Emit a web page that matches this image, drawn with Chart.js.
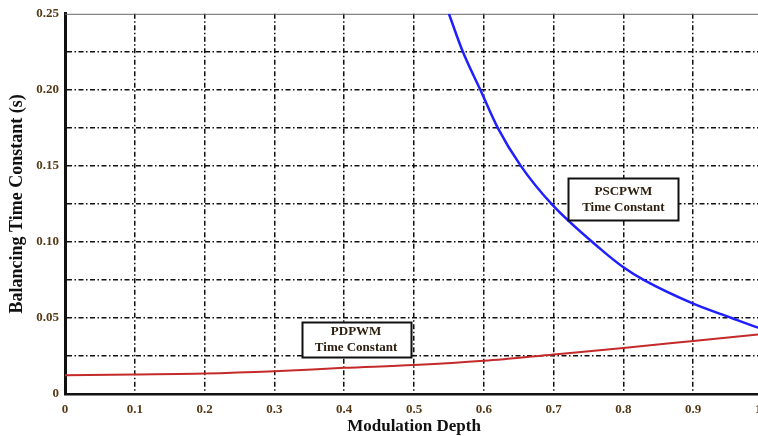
<!DOCTYPE html>
<html>
<head>
<meta charset="utf-8">
<script src="https://cdn.jsdelivr.net/npm/chart.js@4/dist/chart.umd.min.js"></script>
<style>
    html, body { margin: 0; padding: 0; background: #fff; overflow: hidden; }
    #wrap { width: 758px; height: 436px; overflow: hidden; }
    #box { width: 790px; height: 436px; }
</style>
</head>
<body>
<div id="wrap"><div id="box"><canvas id="chart"></canvas></div></div>
<script>
// values
const pscDepth = [0.55, 0.57, 0.595, 0.62, 0.653, 0.697, 0.767, 0.8, 0.829, 0.9, 0.955, 0.993, 1.0]
const pscTau = [0.25, 0.225, 0.2, 0.175, 0.15, 0.125, 0.0954, 0.0833, 0.075, 0.0594, 0.05, 0.0436, 0.0425]

const pdDepth = [0, 0.1, 0.2, 0.3, 0.4, 0.5, 0.6, 0.7, 0.8, 0.9, 1.0]
const pdTau = [0.0124, 0.0129, 0.0135, 0.015, 0.0172, 0.019, 0.0218, 0.026, 0.0303, 0.0349, 0.0395]

const xTicks = [0, 0.1, 0.2, 0.3, 0.4, 0.5, 0.6, 0.7, 0.8, 0.9, 1.0]
const yLabelled = [0, 0.05, 0.10, 0.15, 0.20, 0.25]

const notes = [
    { lines: ['PSCPWM', 'Time Constant'], x: 0.80, y: 0.128, w: 110, h: 42 },
    { lines: ['PDPWM', 'Time Constant'], x: 0.417, y: 0.036, w: 109, h: 35 },
]

const serif = "'Liberation Serif', 'DejaVu Serif', serif"
const tickColor = '#553a18'
const dash = [5, 2.5, 1.5, 2.5]

const toPoints = (xs, ys) => xs.map((x, i) => ({ x, y: ys[i] }))

const frame = {
    id: 'frame',
    beforeDatasetsDraw(chart) {
        const { ctx, chartArea } = chart
        ctx.save()
        ctx.strokeStyle = '#666'
        ctx.lineWidth = 1
        ctx.beginPath()
        ctx.moveTo(chartArea.left, chartArea.top + 0.5)
        ctx.lineTo(chartArea.right, chartArea.top + 0.5)
        ctx.stroke()
        ctx.restore()
    },
    afterDatasetsDraw(chart) {
        const { ctx } = chart
        const xs = chart.scales.x
        const ys = chart.scales.y

        ctx.save()
        ctx.font = 'bold 13px ' + serif
        ctx.textAlign = 'center'
        ctx.textBaseline = 'middle'

        notes.forEach(n => {
            const cx = xs.getPixelForValue(n.x)
            const cy = ys.getPixelForValue(n.y)
            const left = Math.round(cx - n.w / 2) + 0.5
            const top = Math.round(cy - n.h / 2) + 0.5

            ctx.fillStyle = '#fff'
            ctx.fillRect(left, top, n.w, n.h)
            ctx.strokeStyle = '#111'
            ctx.lineWidth = 2
            ctx.strokeRect(left, top, n.w, n.h)

            ctx.fillStyle = '#2e2010'
            ctx.fillText(n.lines[0], cx, cy - 8)
            ctx.fillText(n.lines[1], cx, cy + 8)
        })
        ctx.restore()
    },
}

new Chart(document.getElementById('chart'), {
    type: 'line',
    data: {
        datasets: [
            {
                label: 'PSCPWM Time Constant',
                data: toPoints(pscDepth, pscTau),
                borderColor: '#1f1fff',
                borderWidth: 2.5,
                pointRadius: 0,
                cubicInterpolationMode: 'monotone',
            },
            {
                label: 'PDPWM Time Constant',
                data: toPoints(pdDepth, pdTau),
                borderColor: '#c42a2a',
                borderWidth: 2,
                pointRadius: 0,
                cubicInterpolationMode: 'monotone',
            },
        ],
    },
    options: {
        animation: false,
        responsive: true,
        maintainAspectRatio: false,
        layout: { padding: { top: 12, right: 27, left: 0, bottom: 0 } },
        plugins: {
            legend: { display: false },
            tooltip: { enabled: false },
        },
        scales: {
            x: {
                type: 'linear',
                min: 0,
                max: 1,
                afterBuildTicks: scale => {
                    scale.ticks = xTicks.map(value => ({ value }))
                },
                afterFit: scale => {
                    scale.height = 42
                },
                ticks: {
                    color: tickColor,
                    font: { family: serif, size: 13, weight: 'bold' },
                    padding: 8,
                    maxRotation: 0,
                    autoSkip: false,
                    callback: v => (v === 0 ? '0' : v.toFixed(1)),
                },
                grid: {
                    drawTicks: false,
                    color: ctx =>
                        ctx.tick && (ctx.tick.value === 0 || ctx.tick.value === 1)
                            ? 'rgba(0,0,0,0)'
                            : '#111',
                    lineWidth: 1.5,
                },
                border: { display: true, color: '#111', width: 2.5, dash },
                title: {
                    display: true,
                    text: 'Modulation Depth',
                    color: '#111',
                    font: { family: serif, size: 17, weight: 'bold' },
                    padding: { top: 0, bottom: -1 },
                },
            },
            y: {
                min: 0,
                max: 0.25,
                ticks: {
                    stepSize: 0.025,
                    color: tickColor,
                    font: { family: serif, size: 13, weight: 'bold' },
                    padding: 6,
                    autoSkip: false,
                    callback: v => {
                        const hit = yLabelled.find(l => Math.abs(l - v) < 1e-6)
                        if (hit === undefined) return ''
                        return hit === 0 ? '0' : hit.toFixed(2)
                    },
                },
                afterFit: scale => {
                    scale.width = 65
                },
                grid: {
                    drawTicks: false,
                    color: ctx =>
                        ctx.tick && (ctx.tick.value < 1e-6 || ctx.tick.value > 0.2499)
                            ? 'rgba(0,0,0,0)'
                            : '#111',
                    lineWidth: 1.5,
                },
                border: { display: true, color: '#111', width: 3, dash },
                title: {
                    display: true,
                    text: 'Balancing Time Constant (s)',
                    color: '#111',
                    font: { family: serif, size: 18, weight: 'bold' },
                    padding: { top: 7, bottom: 0 },
                },
            },
        },
    },
    plugins: [frame],
})
</script>
</body>
</html>
